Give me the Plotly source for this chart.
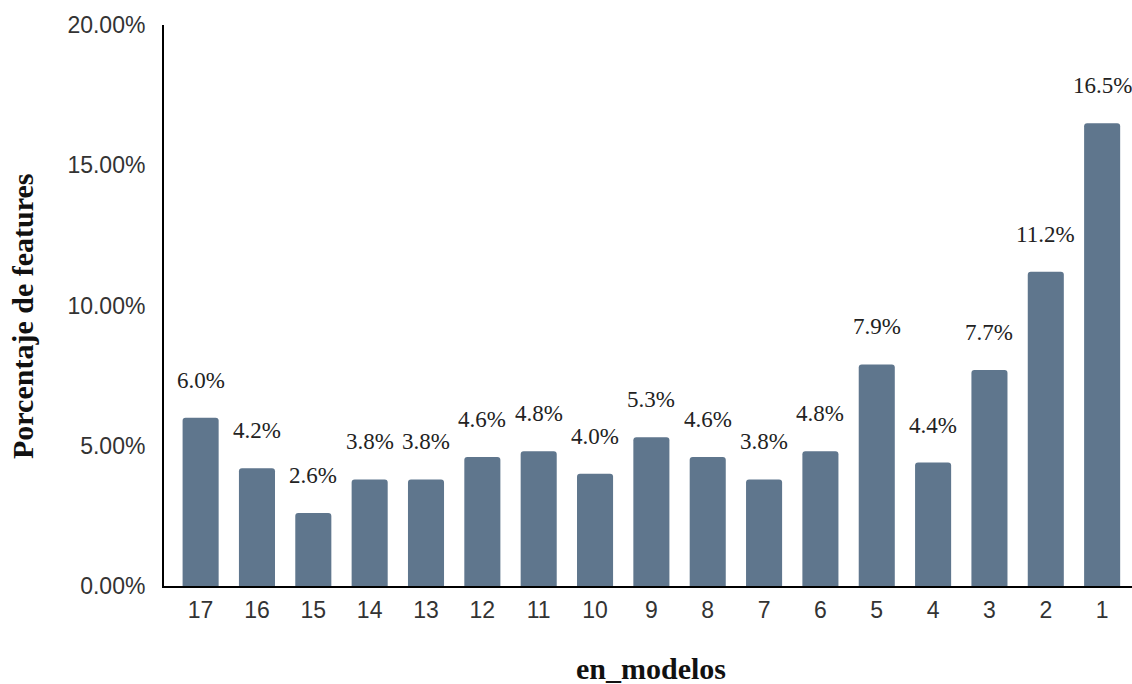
import plotly.graph_objects as go

# Model counts (x categories) and share of features per category
modelos = ["17", "16", "15", "14", "13", "12", "11", "10", "9", "8", "7", "6", "5", "4", "3", "2", "1"]
porcentaje = [6.0, 4.2, 2.6, 3.8, 3.8, 4.6, 4.8, 4.0, 5.3, 4.6, 3.8, 4.8, 7.9, 4.4, 7.7, 11.2, 16.5]
y_ticks = [0, 0.05, 0.10, 0.15, 0.20]

valores = [p / 100 for p in porcentaje]

BAR_COLOR = "#5f768d"
SERIF = "Liberation Serif"
SANS = "Liberation Sans"

fig = go.Figure(
    go.Bar(
        x=list(range(len(modelos))),
        y=valores,
        marker=dict(color=BAR_COLOR, line=dict(width=0)),
        width=0.64,
        hoverinfo="skip",
    )
)

# Value labels floating above each bar
for i, v in enumerate(valores):
    fig.add_annotation(
        x=i, y=v, text=f"{v * 100:.1f}%", showarrow=False,
        yanchor="bottom", yshift=23,
        font=dict(family=SERIF, size=23, color="#222222"),
    )

# Axis titles
fig.add_annotation(
    xref="paper", yref="paper", x=(651 - 164) / 968, y=-(668 - 586) / 561,
    text="<b>en_modelos</b>", showarrow=False, xanchor="center", yanchor="middle",
    font=dict(family=SERIF, size=30, color="#111111"),
)
fig.add_annotation(
    xref="paper", yref="paper", x=-(164 - 22) / 968, y=(586 - 317) / 561,
    text="<b>Porcentaje de features</b>", showarrow=False, textangle=-90,
    xanchor="center", yanchor="middle",
    font=dict(family=SERIF, size=30, color="#111111"),
)

fig.update_layout(
    width=1132, height=684,
    margin=dict(l=164, r=0, t=25, b=98),
    paper_bgcolor="white", plot_bgcolor="white",
    barcornerradius=3,
    showlegend=False,
    xaxis=dict(
        range=[-0.65, 16.53],
        tickmode="array",
        tickvals=list(range(len(modelos))),
        ticktext=modelos,
        showline=True, linecolor="black", linewidth=2,
        showgrid=False, zeroline=False, ticks="",
        ticklabelstandoff=2,
        tickfont=dict(family=SANS, size=23, color="#333333"),
    ),
    yaxis=dict(
        range=[0, 0.2],
        tickmode="array",
        tickvals=y_ticks,
        tickformat=".2%",
        showline=True, linecolor="black", linewidth=2,
        showgrid=False, zeroline=False, ticks="",
        ticklabelstandoff=12,
        tickfont=dict(family=SANS, size=23, color="#333333"),
    ),
)

fig.write_html("out.html")
